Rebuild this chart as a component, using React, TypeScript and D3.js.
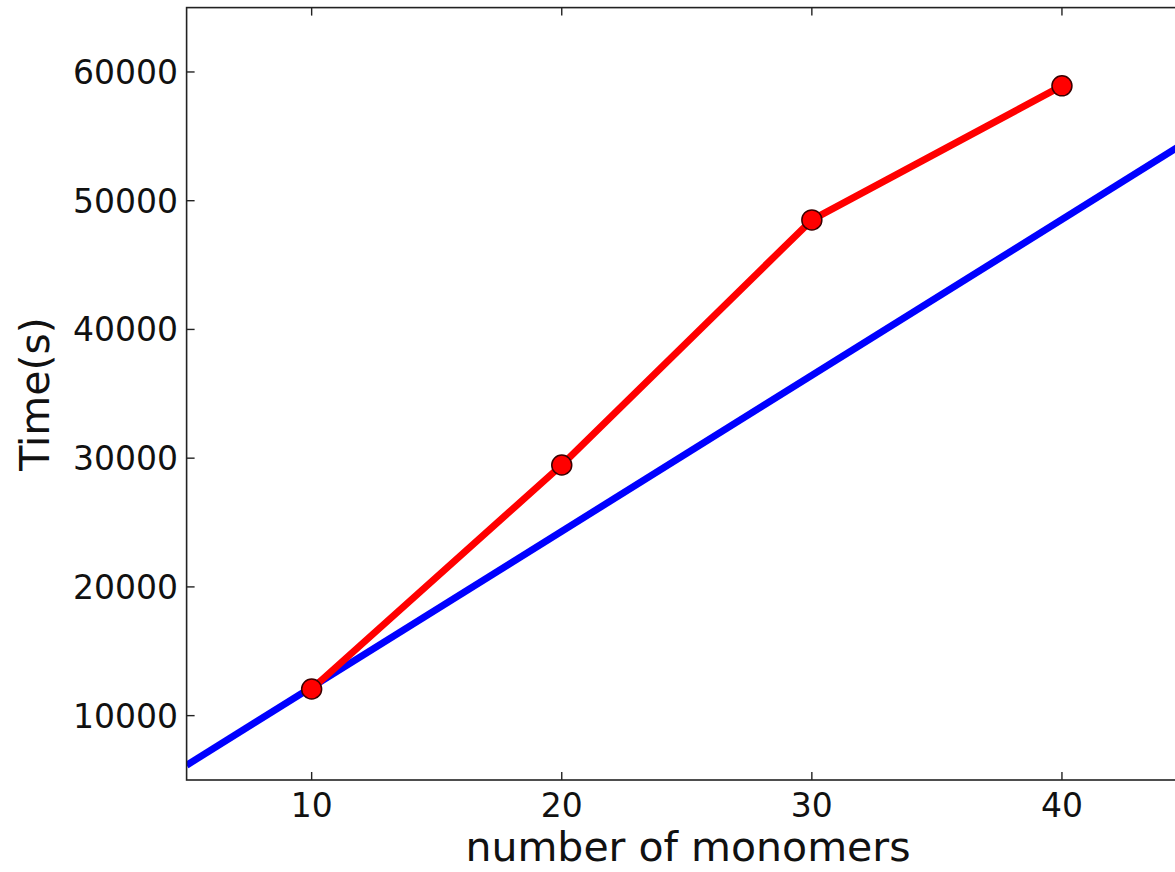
import React from "react";
import * as d3 from "d3";

const xTicks = [10, 20, 30, 40];
const yTicks = [10000, 20000, 30000, 40000, 50000, 60000];
const measuredX = [10, 20, 30, 40];
const measuredY = [12070, 29470, 48510, 58920];
const linearX = [5, 45];
const linearY = [6150, 54600];

const W = 1175;
const H = 872;
const left = 186.6;
const right = 1187;
const top = 7.6;
const bottom = 780;

export default function App() {
  const x = d3.scaleLinear().domain([5, 45]).range([left, right]);
  const y = d3.scaleLinear().domain([5000, 65000]).range([bottom, top]);
  const line = d3
    .line<[number, number]>()
    .x((d) => x(d[0]))
    .y((d) => y(d[1]));
  const red = measuredX.map((v, i) => [v, measuredY[i]] as [number, number]);
  const blue = linearX.map((v, i) => [v, linearY[i]] as [number, number]);
  const font = "'DejaVu Sans', sans-serif";
  const tl = 8;
  return (
    <svg
      width={W}
      height={H}
      style={{ position: "absolute", left: 0, top: 0, background: "#fff" }}
      fontFamily={font}
    >
      <defs>
        <clipPath id="plot">
          <rect x={left} y={top} width={right - left} height={bottom - top} />
        </clipPath>
      </defs>
      <g clipPath="url(#plot)">
        <path d={line(blue) || ""} fill="none" stroke="#0000ff" strokeWidth={7} />
        <path
          d={line(red) || ""}
          fill="none"
          stroke="#ff0000"
          strokeWidth={7}
          strokeLinejoin="round"
        />
        {red.map((d, i) => (
          <circle
            key={i}
            cx={x(d[0])}
            cy={y(d[1])}
            r={10}
            fill="#ff0000"
            stroke="#3a0000"
            strokeWidth={1.5}
          />
        ))}
      </g>
      <rect
        x={left}
        y={top}
        width={right - left}
        height={bottom - top}
        fill="none"
        stroke="#222"
        strokeWidth={1.6}
      />
      {xTicks.map((t) => (
        <g key={"x" + t}>
          <line x1={x(t)} x2={x(t)} y1={bottom} y2={bottom - tl} stroke="#222" strokeWidth={1.4} />
          <line x1={x(t)} x2={x(t)} y1={top} y2={top + tl} stroke="#222" strokeWidth={1.4} />
          <text x={x(t)} y={817} textAnchor="middle" fontSize={33} fill="#111">
            {t}
          </text>
        </g>
      ))}
      {yTicks.map((t) => (
        <g key={"y" + t}>
          <line x1={left} x2={left + tl} y1={y(t)} y2={y(t)} stroke="#222" strokeWidth={1.4} />
          <line x1={right} x2={right - tl} y1={y(t)} y2={y(t)} stroke="#222" strokeWidth={1.4} />
          <text
            x={178}
            y={y(t)}
            dy="0.36em"
            textAnchor="end"
            fontSize={33}
            fill="#111"
          >
            {t}
          </text>
        </g>
      ))}
      <text x={688} y={861} textAnchor="middle" fontSize={41} fill="#111">
        number of monomers
      </text>
      <text
        transform={`translate(49, 394) rotate(-90)`}
        textAnchor="middle"
        fontSize={41}
        fill="#111"
      >
        Time(s)
      </text>
    </svg>
  );
}
